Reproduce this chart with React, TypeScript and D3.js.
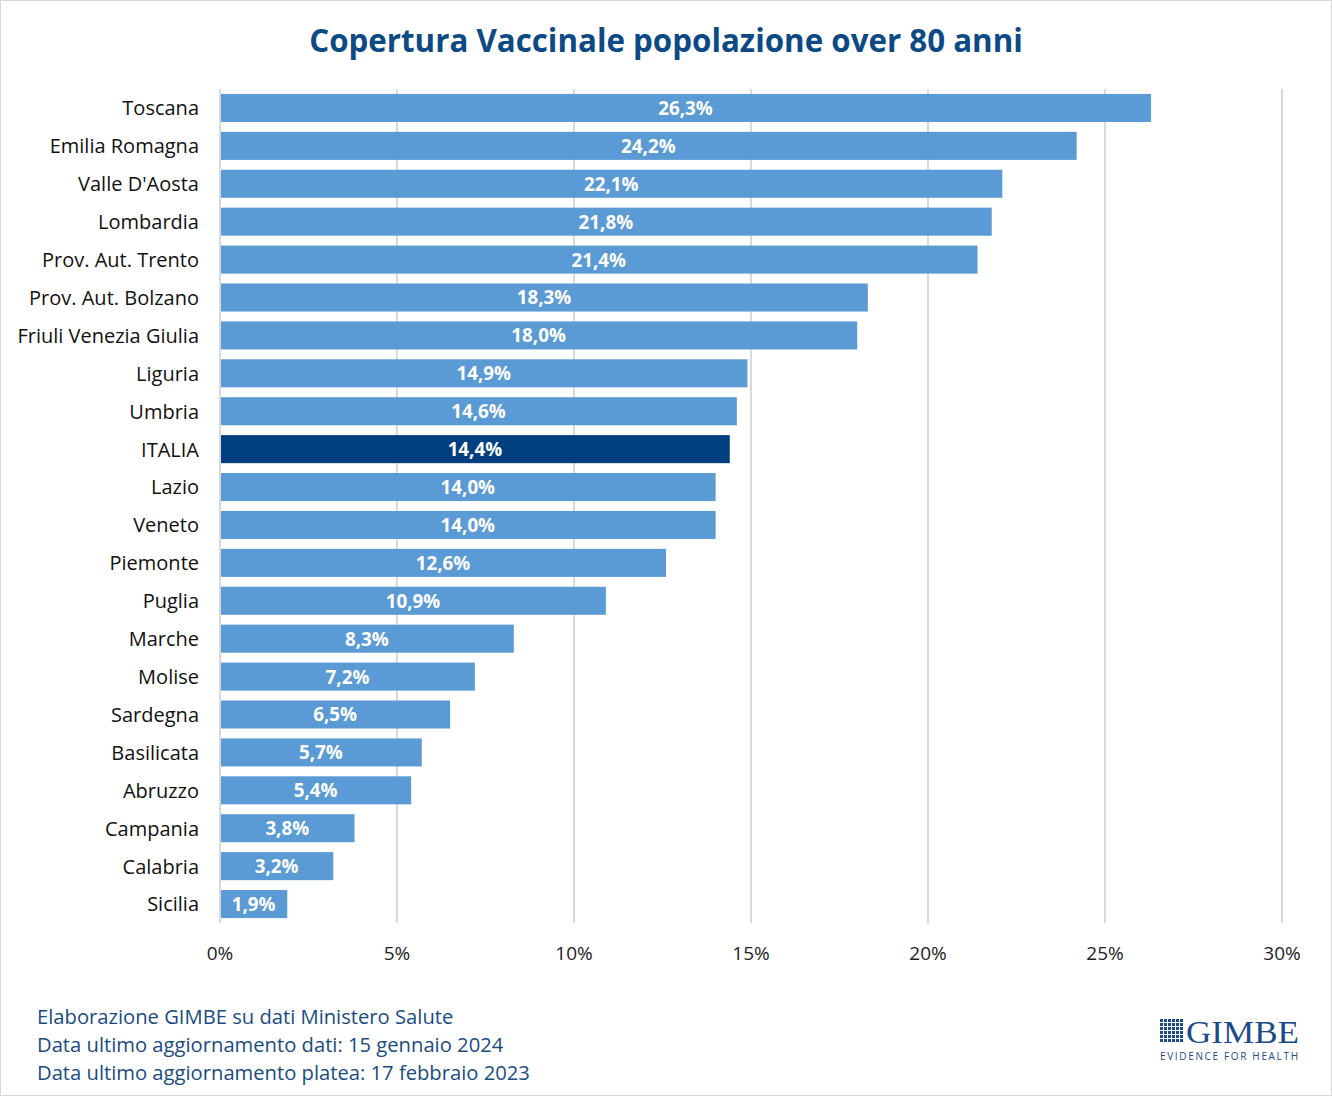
import React, { useEffect } from 'react';
import * as d3 from 'd3';

const regions = [
  'Toscana', 'Emilia Romagna', "Valle D'Aosta", 'Lombardia', 'Prov. Aut. Trento',
  'Prov. Aut. Bolzano', 'Friuli Venezia Giulia', 'Liguria', 'Umbria', 'ITALIA',
  'Lazio', 'Veneto', 'Piemonte', 'Puglia', 'Marche', 'Molise', 'Sardegna',
  'Basilicata', 'Abruzzo', 'Campania', 'Calabria', 'Sicilia',
];
const coverage = [
  26.3, 24.2, 22.1, 21.8, 21.4, 18.3, 18.0, 14.9, 14.6, 14.4, 14.0, 14.0,
  12.6, 10.9, 8.3, 7.2, 6.5, 5.7, 5.4, 3.8, 3.2, 1.9,
];
const xTicks = [0, 5, 10, 15, 20, 25, 30];
const footerLines = [
  'Elaborazione GIMBE su dati Ministero Salute',
  'Data ultimo aggiornamento dati: 15 gennaio 2024',
  'Data ultimo aggiornamento platea: 17 febbraio 2023',
];

const W = 1332;
const H = 1096;
const FONT = "'Open Sans', 'Noto Sans', sans-serif";
const BLUE = '#5b9bd5';
const DARK = '#003f7f';
const TITLE_BLUE = '#0c4a86';
const TEXT_BLUE = '#1a4c82';

const fmt = (v: number) => v.toFixed(1).replace('.', ',') + '%';

export default function App() {
  useEffect(() => {
    document.body.style.margin = '0';
  }, []);

  const x = d3.scaleLinear().domain([0, 30]).range([220, 1282]);
  const y = d3.scaleBand<string>().domain(regions).range([89, 923]).paddingInner(0.26).paddingOuter(0.13);

  const rows = regions.map((r, i) => ({ region: r, value: coverage[i] }));

  return (
    <svg width={W} height={H} style={{ display: 'block', fontFamily: FONT }}>
      <rect x={0.5} y={0.5} width={W - 1} height={H - 1} fill="#fff" stroke="#d9d9d9" />
      <text x={W / 2} y={52} textAnchor="middle" fontSize={31.3} fontWeight={700} fill={TITLE_BLUE}>
        Copertura Vaccinale popolazione over 80 anni
      </text>

      {xTicks.map((t) => (
        <g key={t}>
          <line x1={x(t)} x2={x(t)} y1={89} y2={923} stroke="#d9d9d9" strokeWidth={2} />
          <text x={x(t)} y={960} textAnchor="middle" fontSize={19} fill="#222">
            {t}%
          </text>
        </g>
      ))}

      {rows.map((d) => {
        const yy = y(d.region) as number;
        const bw = y.bandwidth();
        return (
          <g key={d.region}>
            <rect
              x={x(0) + 1}
              y={yy}
              width={x(d.value) - x(0) - 1}
              height={bw}
              fill={d.region === 'ITALIA' ? DARK : BLUE}
            />
            <text
              x={(x(0) + x(d.value)) / 2}
              y={yy + bw / 2}
              dy="0.37em"
              textAnchor="middle"
              fontSize={18.8}
              fontWeight={700}
              fill="#fff"
            >
              {fmt(d.value)}
            </text>
            <text
              x={199}
              y={yy + bw / 2}
              dy="0.37em"
              textAnchor="end"
              fontSize={20}
              fill="#111"
            >
              {d.region}
            </text>
          </g>
        );
      })}

      {footerLines.map((line, i) => (
        <text key={line} x={37} y={1024 + i * 28} fontSize={20.2} fill={TEXT_BLUE}>
          {line}
        </text>
      ))}

      <g transform="translate(1160,1019)">
        {d3.range(36).map((k) => (
          <rect
            key={k}
            x={(k % 6) * 4}
            y={Math.floor(k / 6) * 4}
            width={3}
            height={3}
            fill="#1a4a8a"
          />
        ))}
        <text x={26} y={24} fontSize={31} fontFamily="'Liberation Serif', serif" fill="#1a4a8a" textLength={113} lengthAdjust="spacingAndGlyphs">
          GIMBE
        </text>
        <text x={0} y={41} fontSize={10} fill="#1a4a8a" textLength={138} lengthAdjust="spacing">
          EVIDENCE FOR HEALTH
        </text>
      </g>
    </svg>
  );
}
